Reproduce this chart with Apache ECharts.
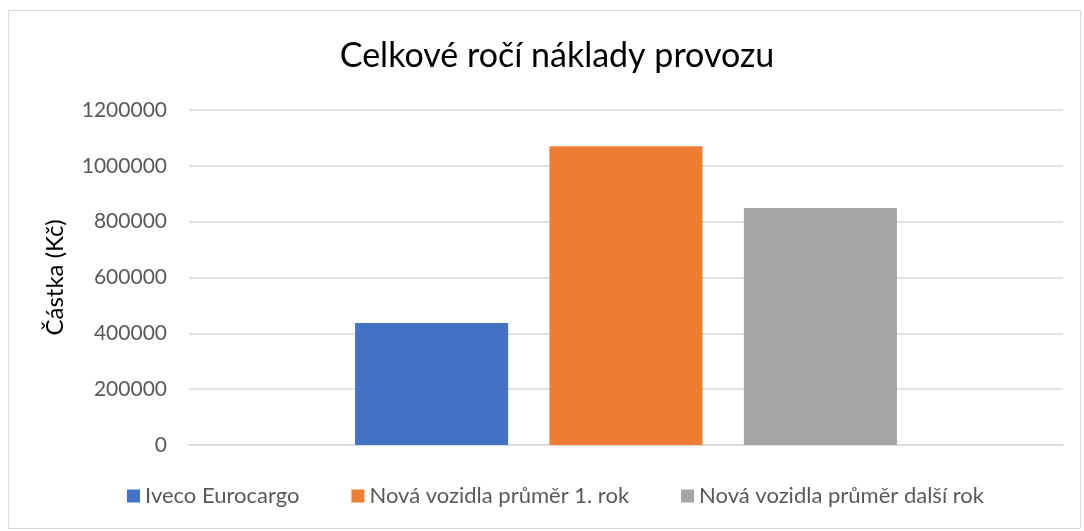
<!DOCTYPE html>
<html>
<head>
<meta charset="utf-8">
<script src="https://cdn.jsdelivr.net/npm/echarts@6/dist/echarts.min.js"></script>
<style>
  html, body { margin: 0; padding: 0; background: #fff; }
  #chart { width: 1084px; height: 531px; }
</style>
</head>
<body>
<div id="chart"></div>
<script>
var categories = [''];
var seriesNames = ['Iveco Eurocargo', 'Nová vozidla průměr 1. rok', 'Nová vozidla průměr další rok'];
var ivecoValues = [437000];
var firstYearValues = [1070000];
var nextYearValues = [849000];
var colors = ['#4472C4', '#ED7D31', '#A5A5A5'];

var chart = echarts.init(document.getElementById('chart'));
var font = 'Lato, "Open Sans", sans-serif';
var dataSets = [ivecoValues, firstYearValues, nextYearValues];
var series = [];
for (var i = 0; i < seriesNames.length; i++) {
  series.push({
    name: seriesNames[i],
    type: 'bar',
    data: dataSets[i],
    barGap: '27%',
    barCategoryGap: '38%',
    itemStyle: { color: colors[i] }
  });
}

chart.setOption({
  animation: false,
  graphic: [{
    type: 'rect',
    shape: { x: 8.5, y: 10.5, width: 1072, height: 518 },
    style: { fill: 'none', stroke: '#d9d9d9', lineWidth: 1 },
    silent: true
  }],
  title: {
    text: 'Celkové ročí náklady provozu',
    left: 552,
    textAlign: 'center',
    top: 34,
    textStyle: { fontFamily: font, fontSize: 34, fontWeight: 'normal', color: '#000' }
  },
  legend: {
    data: seriesNames,
    bottom: 19,
    left: 122,
    itemWidth: 13,
    itemHeight: 13,
    itemGap: 52,
    icon: 'rect',
    textStyle: { fontFamily: font, fontSize: 22, color: '#595959' }
  },
  grid: { left: 189, right: 21, top: 110, bottom: 86, containLabel: false },
  xAxis: {
    type: 'category',
    data: categories,
    axisLine: { lineStyle: { color: '#d9d9d9', width: 1.5 } },
    axisTick: { show: false },
    axisLabel: { show: false }
  },
  yAxis: {
    type: 'value',
    min: 0,
    max: 1200000,
    interval: 200000,
    name: 'Částka (Kč)',
    nameLocation: 'middle',
    nameGap: 122,
    nameRotate: 90,
    nameTextStyle: { fontFamily: font, fontSize: 24, color: '#000' },
    axisLine: { show: false },
    axisTick: { show: false },
    axisLabel: {
      fontFamily: font, fontSize: 21, color: '#595959', margin: 22,
      formatter: function (v) { return String(v); }
    },
    splitLine: { lineStyle: { color: '#d9d9d9', width: 1.5 } }
  },
  series: series
});
</script>
</body>
</html>
